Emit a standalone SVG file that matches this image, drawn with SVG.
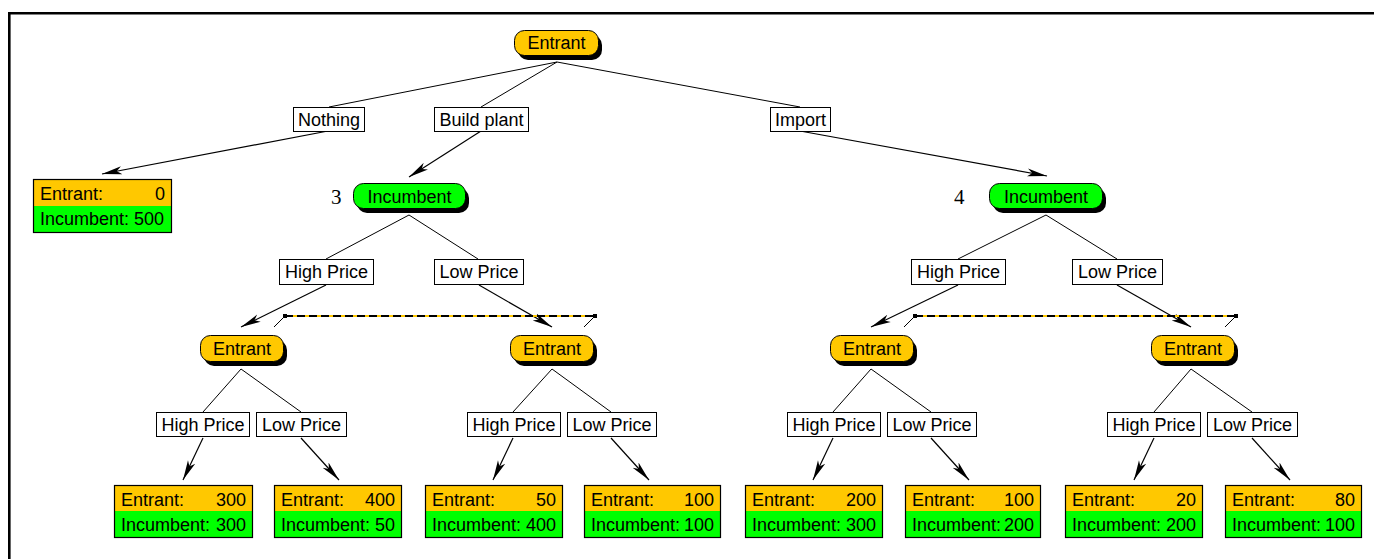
<svg xmlns="http://www.w3.org/2000/svg" width="1374" height="559" viewBox="0 0 1374 559">
  <defs>
    <style>
      .t { font-family: "Liberation Sans", Arial, sans-serif; font-size: 18px; fill: #000; }
      .c { text-anchor: middle; }
      .r { text-anchor: end; }
      .num { font-family: "Liberation Serif", "Times New Roman", serif; font-size: 21px; fill: #000; }
      .edge { stroke: #000; stroke-width: 1; fill: none; }
      .arr { stroke: #000; stroke-width: 1.2; fill: none; marker-end: url(#ah); }
      .lbl { fill: #fff; stroke: #000; stroke-width: 1; }
      .shadow { fill: #000; }
      .ent { fill: #ffc800; stroke: #000; stroke-width: 1; }
      .inc { fill: #00ff00; stroke: #000; stroke-width: 1; }
      .cellE { fill: #ffc800; stroke: none; }
      .cellI { fill: #00ff00; stroke: none; }
      .frame { fill: none; stroke: #000; stroke-width: 1.2; }
      .info { stroke: #ffc800; stroke-width: 2; }
      .infodash { stroke: #000; stroke-width: 2; stroke-dasharray: 8 4; }
      .tick { stroke: #000; stroke-width: 1; }
    </style>
    <marker id="ah" markerWidth="20" markerHeight="10" refX="20" refY="5" orient="auto" markerUnits="userSpaceOnUse">
      <path d="M0,1 L20,5 L0,9 L5,5 z" fill="#000"/>
    </marker>
  </defs>

  <rect width="1374" height="559" fill="#fff"/>
  <!-- page border (top and left) -->
  <path d="M9.3,559 V13.3 H1374" fill="none" stroke="#000" stroke-width="2.6"/>

  <!-- connectors -->
  <g id="connectors">
    <!-- root to moves -->
    <line class="edge" x1="557" y1="62" x2="329" y2="107"/>
    <line class="edge" x1="557" y1="62" x2="481" y2="107"/>
    <line class="edge" x1="557" y1="62" x2="800" y2="107"/>
    <line class="arr" x1="328" y1="131" x2="102" y2="174"/>
    <line class="arr" x1="481" y1="131" x2="409" y2="177"/>
    <line class="arr" x1="800" y1="131" x2="1047" y2="176"/>

    <!-- incumbent 3 -->
    <line class="edge" x1="409" y1="215" x2="326" y2="259"/>
    <line class="edge" x1="409" y1="215" x2="478" y2="259"/>
    <line class="arr" x1="326" y1="285" x2="241" y2="327"/>
    <line class="arr" x1="479" y1="285" x2="552" y2="327"/>

    <!-- incumbent 4 -->
    <line class="edge" x1="1046" y1="215" x2="958" y2="259"/>
    <line class="edge" x1="1046" y1="215" x2="1117" y2="259"/>
    <line class="arr" x1="958" y1="285" x2="871" y2="327"/>
    <line class="arr" x1="1117" y1="285" x2="1191" y2="327"/>

    <!-- information sets -->
    <g id="infoset-3">
      <line class="info" x1="285" y1="316" x2="595" y2="316"/>
      <line class="infodash" x1="285" y1="316" x2="595" y2="316"/>
      <rect x="283" y="314" width="4" height="4" fill="#000"/>
      <rect x="593" y="314" width="4" height="4" fill="#000"/>
      <line class="tick" x1="285" y1="316" x2="274" y2="327"/>
      <line class="tick" x1="595" y1="316" x2="584" y2="327"/>
    </g>
    <g id="infoset-4">
      <line class="info" x1="915" y1="316" x2="1236" y2="316"/>
      <line class="infodash" x1="915" y1="316" x2="1236" y2="316"/>
      <rect x="913" y="314" width="4" height="4" fill="#000"/>
      <rect x="1234" y="314" width="4" height="4" fill="#000"/>
      <line class="tick" x1="915" y1="316" x2="904" y2="327"/>
      <line class="tick" x1="1236" y1="316" x2="1225" y2="327"/>
    </g>

    <!-- entrant nodes to leaves -->
    <line class="edge" x1="241" y1="369" x2="203" y2="412"/>
    <line class="edge" x1="241" y1="369" x2="301" y2="412"/>
    <line class="arr" x1="203" y1="438" x2="183" y2="480"/>
    <line class="arr" x1="301" y1="438" x2="339" y2="480"/>

    <line class="edge" x1="552" y1="369" x2="513" y2="412"/>
    <line class="edge" x1="552" y1="369" x2="611" y2="412"/>
    <line class="arr" x1="513" y1="438" x2="493" y2="480"/>
    <line class="arr" x1="611" y1="438" x2="649" y2="480"/>

    <line class="edge" x1="871" y1="369" x2="833" y2="412"/>
    <line class="edge" x1="871" y1="369" x2="931" y2="412"/>
    <line class="arr" x1="833" y1="438" x2="813" y2="480"/>
    <line class="arr" x1="931" y1="438" x2="969" y2="480"/>

    <line class="edge" x1="1191" y1="369" x2="1154" y2="412"/>
    <line class="edge" x1="1191" y1="369" x2="1252" y2="412"/>
    <line class="arr" x1="1154" y1="438" x2="1134" y2="480"/>
    <line class="arr" x1="1252" y1="438" x2="1290" y2="480"/>
  </g>

  <!-- move labels -->
  <g id="move-labels">
    <g id="lbl-nothing"><rect class="lbl" x="293.5" y="107.5" width="71" height="24"/><text class="t c" x="329" y="126">Nothing</text></g>
    <g id="lbl-build"><rect class="lbl" x="434.5" y="107.5" width="94" height="24"/><text class="t c" x="481.5" y="126">Build plant</text></g>
    <g id="lbl-import"><rect class="lbl" x="770.5" y="107.5" width="60" height="24"/><text class="t c" x="800.5" y="126">Import</text></g>

    <g id="lbl-i3-high"><rect class="lbl" x="279.5" y="259.5" width="94" height="25"/><text class="t c" x="326.5" y="278">High Price</text></g>
    <g id="lbl-i3-low"><rect class="lbl" x="434.5" y="259.5" width="89" height="25"/><text class="t c" x="479" y="278">Low Price</text></g>
    <g id="lbl-i4-high"><rect class="lbl" x="911.5" y="259.5" width="94" height="25"/><text class="t c" x="958.5" y="278">High Price</text></g>
    <g id="lbl-i4-low"><rect class="lbl" x="1072.5" y="259.5" width="90" height="25"/><text class="t c" x="1117.5" y="278">Low Price</text></g>

    <g id="lbl-e1-high"><rect class="lbl" x="156.5" y="412.5" width="93" height="24"/><text class="t c" x="203" y="431">High Price</text></g>
    <g id="lbl-e1-low"><rect class="lbl" x="256.5" y="412.5" width="90" height="24"/><text class="t c" x="301.5" y="431">Low Price</text></g>
    <g id="lbl-e2-high"><rect class="lbl" x="467.5" y="412.5" width="93" height="24"/><text class="t c" x="514" y="431">High Price</text></g>
    <g id="lbl-e2-low"><rect class="lbl" x="567.5" y="412.5" width="89" height="24"/><text class="t c" x="612" y="431">Low Price</text></g>
    <g id="lbl-e3-high"><rect class="lbl" x="787.5" y="412.5" width="93" height="24"/><text class="t c" x="834" y="431">High Price</text></g>
    <g id="lbl-e3-low"><rect class="lbl" x="887.5" y="412.5" width="89" height="24"/><text class="t c" x="932" y="431">Low Price</text></g>
    <g id="lbl-e4-high"><rect class="lbl" x="1107.5" y="412.5" width="93" height="24"/><text class="t c" x="1154" y="431">High Price</text></g>
    <g id="lbl-e4-low"><rect class="lbl" x="1207.5" y="412.5" width="90" height="24"/><text class="t c" x="1252.5" y="431">Low Price</text></g>
  </g>

  <!-- decision nodes -->
  <g id="node-root">
    <rect class="shadow" x="518" y="35" width="84" height="25" rx="10"/>
    <rect class="ent" x="514.5" y="30.5" width="84" height="25" rx="10"/>
    <text class="t c" x="556.5" y="49">Entrant</text>
  </g>

  <g id="node-inc3">
    <text class="num" x="331" y="204">3</text>
    <rect class="shadow" x="357" y="188" width="112" height="25" rx="10"/>
    <rect class="inc" x="353.5" y="183.5" width="112" height="25" rx="10"/>
    <text class="t c" x="409.5" y="202.5">Incumbent</text>
  </g>

  <g id="node-inc4">
    <text class="num" x="954" y="204">4</text>
    <rect class="shadow" x="993" y="188" width="113" height="25" rx="10"/>
    <rect class="inc" x="989.5" y="183.5" width="113" height="25" rx="10"/>
    <text class="t c" x="1046" y="202.5">Incumbent</text>
  </g>

  <g id="node-ent1">
    <rect class="shadow" x="204" y="340" width="83" height="26" rx="10"/>
    <rect class="ent" x="200.5" y="335.5" width="83" height="26" rx="10"/>
    <text class="t c" x="242" y="355">Entrant</text>
  </g>
  <g id="node-ent2">
    <rect class="shadow" x="514" y="340" width="83" height="26" rx="10"/>
    <rect class="ent" x="510.5" y="335.5" width="83" height="26" rx="10"/>
    <text class="t c" x="552" y="355">Entrant</text>
  </g>
  <g id="node-ent3">
    <rect class="shadow" x="834" y="340" width="83" height="26" rx="10"/>
    <rect class="ent" x="830.5" y="335.5" width="83" height="26" rx="10"/>
    <text class="t c" x="872" y="355">Entrant</text>
  </g>
  <g id="node-ent4">
    <rect class="shadow" x="1155" y="340" width="83" height="26" rx="10"/>
    <rect class="ent" x="1151.5" y="335.5" width="83" height="26" rx="10"/>
    <text class="t c" x="1193" y="355">Entrant</text>
  </g>

  <!-- payoff leaves -->
  <g id="leaf-nothing">
    <rect class="cellE" x="33" y="179" width="139" height="27"/>
    <rect class="cellI" x="33" y="206" width="139" height="27"/>
    <rect class="frame" x="33.5" y="179.5" width="138" height="53"/>
    <text class="t" x="40" y="200">Entrant:</text><text class="t r" x="165" y="200">0</text>
    <text class="t" x="40" y="225">Incumbent: 500</text>
  </g>

  <g id="leaf-1">
    <rect class="cellE" x="114" y="485" width="139" height="26"/>
    <rect class="cellI" x="114" y="511" width="139" height="27"/>
    <rect class="frame" x="114.5" y="485.5" width="138" height="52"/>
    <text class="t" x="121" y="506">Entrant:</text><text class="t r" x="246" y="506">300</text>
    <text class="t" x="121" y="531">Incumbent:</text><text class="t r" x="246" y="531">300</text>
  </g>
  <g id="leaf-2">
    <rect class="cellE" x="274" y="485" width="128" height="26"/>
    <rect class="cellI" x="274" y="511" width="128" height="27"/>
    <rect class="frame" x="274.5" y="485.5" width="127" height="52"/>
    <text class="t" x="281" y="506">Entrant:</text><text class="t r" x="395" y="506">400</text>
    <text class="t" x="281" y="531">Incumbent:</text><text class="t r" x="395" y="531">50</text>
  </g>
  <g id="leaf-3">
    <rect class="cellE" x="425" y="485" width="138" height="26"/>
    <rect class="cellI" x="425" y="511" width="138" height="27"/>
    <rect class="frame" x="425.5" y="485.5" width="137" height="52"/>
    <text class="t" x="432" y="506">Entrant:</text><text class="t r" x="556" y="506">50</text>
    <text class="t" x="432" y="531">Incumbent:</text><text class="t r" x="556" y="531">400</text>
  </g>
  <g id="leaf-4">
    <rect class="cellE" x="584" y="485" width="137" height="26"/>
    <rect class="cellI" x="584" y="511" width="137" height="27"/>
    <rect class="frame" x="584.5" y="485.5" width="136" height="52"/>
    <text class="t" x="591" y="506">Entrant:</text><text class="t r" x="714" y="506">100</text>
    <text class="t" x="591" y="531">Incumbent:</text><text class="t r" x="714" y="531">100</text>
  </g>
  <g id="leaf-5">
    <rect class="cellE" x="745" y="485" width="138" height="26"/>
    <rect class="cellI" x="745" y="511" width="138" height="27"/>
    <rect class="frame" x="745.5" y="485.5" width="137" height="52"/>
    <text class="t" x="752" y="506">Entrant:</text><text class="t r" x="876" y="506">200</text>
    <text class="t" x="752" y="531">Incumbent:</text><text class="t r" x="876" y="531">300</text>
  </g>
  <g id="leaf-6">
    <rect class="cellE" x="905" y="485" width="136" height="26"/>
    <rect class="cellI" x="905" y="511" width="136" height="27"/>
    <rect class="frame" x="905.5" y="485.5" width="135" height="52"/>
    <text class="t" x="912" y="506">Entrant:</text><text class="t r" x="1034" y="506">100</text>
    <text class="t" x="912" y="531">Incumbent:</text><text class="t r" x="1034" y="531">200</text>
  </g>
  <g id="leaf-7">
    <rect class="cellE" x="1065" y="485" width="138" height="26"/>
    <rect class="cellI" x="1065" y="511" width="138" height="27"/>
    <rect class="frame" x="1065.5" y="485.5" width="137" height="52"/>
    <text class="t" x="1072" y="506">Entrant:</text><text class="t r" x="1196" y="506">20</text>
    <text class="t" x="1072" y="531">Incumbent:</text><text class="t r" x="1196" y="531">200</text>
  </g>
  <g id="leaf-8">
    <rect class="cellE" x="1225" y="485" width="137" height="26"/>
    <rect class="cellI" x="1225" y="511" width="137" height="27"/>
    <rect class="frame" x="1225.5" y="485.5" width="136" height="52"/>
    <text class="t" x="1232" y="506">Entrant:</text><text class="t r" x="1355" y="506">80</text>
    <text class="t" x="1232" y="531">Incumbent:</text><text class="t r" x="1355" y="531">100</text>
  </g>
</svg>
